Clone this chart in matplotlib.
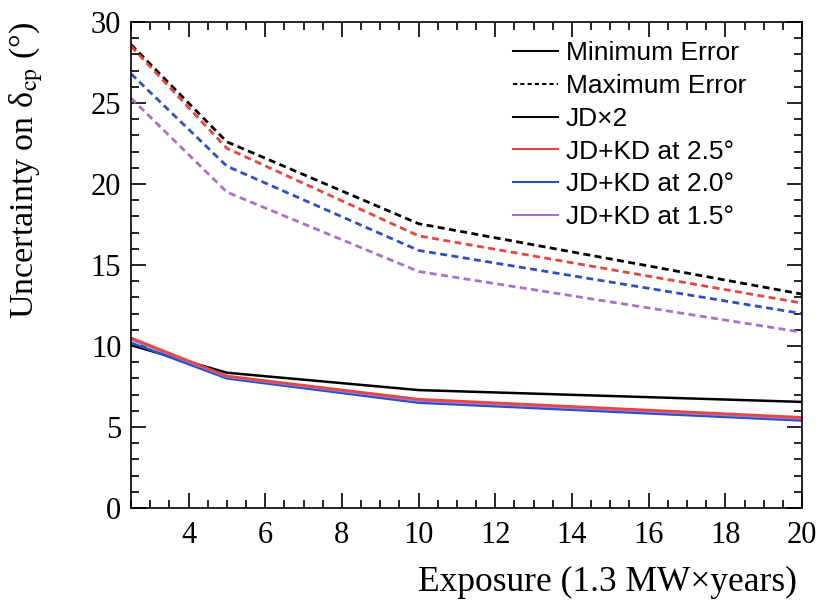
import matplotlib
matplotlib.use("Agg")
import matplotlib.pyplot as plt
from matplotlib.lines import Line2D
from matplotlib.ticker import MultipleLocator

# exposure points (1.3 MW x years)
exposure = [2.5, 5, 10, 20]

# minimum error (solid)
min_jd2 = [10.05, 8.35, 7.28, 6.55]
min_kd25 = [10.5, 8.15, 6.72, 5.6]
min_kd20 = [10.2, 8.0, 6.5, 5.4]
min_kd15 = [10.4, 8.1, 6.63, 5.52]

# maximum error (dashed)
max_jd2 = [28.6, 22.6, 17.55, 13.2]
max_kd25 = [28.5, 22.2, 16.8, 12.65]
max_kd20 = [26.8, 21.1, 15.9, 12.0]
max_kd15 = [25.3, 19.5, 14.6, 10.85]

labels = ["JD×2", "JD+KD at 2.5°", "JD+KD at 2.0°", "JD+KD at 1.5°"]
colors = ["black", "#e8453c", "#2d50c0", "#a96fca"]

plt.rcParams['mathtext.fontset'] = 'stix'

fig = plt.figure(figsize=(8.21, 6.04), dpi=100)
ax = fig.add_axes([0.1596, 0.1589, 0.8173, 0.8047])

dash = (0, (2.5, 1.6))
for y, c in zip([max_jd2, max_kd25, max_kd20, max_kd15], colors):
    ax.plot(exposure, y, color=c, lw=2.0, linestyle=dash)
for y, c in zip([min_jd2, min_kd20, min_kd15, min_kd25], [colors[0], colors[2], colors[3], colors[1]]):
    ax.plot(exposure, y, color=c, lw=1.8)

ax.set_xlim(2.5, 20)
ax.set_ylim(0, 30)
ax.xaxis.set_major_locator(MultipleLocator(2))
ax.xaxis.set_minor_locator(MultipleLocator(0.5))
ax.yaxis.set_major_locator(MultipleLocator(5))
ax.yaxis.set_minor_locator(MultipleLocator(1))
ax.tick_params(which='both', direction='in', top=True, right=True, width=1.2)
ax.tick_params(which='major', length=11)
ax.tick_params(which='minor', length=6)
ax.tick_params(axis='x', pad=9)
ax.tick_params(axis='y', pad=7)
for s in ax.spines.values():
    s.set_linewidth(1.2)

for lab in ax.get_xticklabels() + ax.get_yticklabels():
    lab.set_family('Liberation Serif')
    lab.set_fontsize(22)

ax.set_xlabel("Exposure (1.3 MW×years)", loc='right', family='Liberation Serif',
              fontsize=25.5)
ax.xaxis.set_label_coords(0.9925, -0.12)
ax.set_ylabel(r"Uncertainty on δ$_{\mathrm{cp}}$ (°)", loc='top',
              family='Liberation Serif', fontsize=24.5)
ax.yaxis.set_label_coords(-0.13, 1.0)

handles = [Line2D([], [], color='black', lw=1.5),
           Line2D([], [], color='black', lw=1.5, linestyle=(0, (2, 1.5)))]
handles += [Line2D([], [], color=c, lw=1.5) for c in colors]
leg = ax.legend(handles, ["Minimum Error", "Maximum Error"] + labels,
                loc='upper left', bbox_to_anchor=(0.569, 0.96), frameon=False,
                prop={'family': 'Liberation Sans', 'size': 19},
                handlelength=1.7, handletextpad=0.3, labelspacing=0.33,
                borderaxespad=0, borderpad=0)

fig.savefig("out.png", dpi=100)
